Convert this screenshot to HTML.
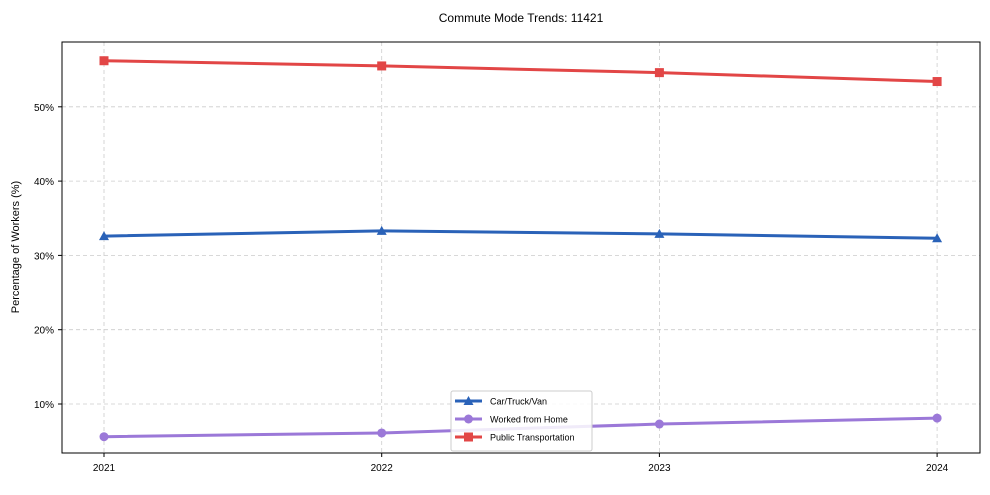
<!DOCTYPE html>
<html><head><meta charset="utf-8"><style>
body{margin:0;background:#fff;font-family:"Liberation Sans",Arial,sans-serif}
svg text{font-family:"Liberation Sans",Arial,sans-serif;fill:#000}
</style></head><body>
<svg id="chart" width="990" height="490">
<text x="521" y="22" font-size="12" text-anchor="middle">Commute Mode Trends: 11421</text>
<text transform="translate(19,247) rotate(-90)" font-size="11" text-anchor="middle">Percentage of Workers (%)</text>
<g id="grid"></g><g id="series"></g>
<rect x="62" y="42" width="918" height="411" fill="none" stroke="#000" stroke-width="1"/>
<g id="legend"></g>
</svg>
<script>
const years=["2021","2022","2023","2024"];
const carValues=[32.6,33.3,32.9,32.3];
const wfhValues=[5.6,6.1,7.3,8.1];
const ptValues=[56.2,55.5,54.6,53.4];
const yTicks=[10,20,30,40,50];
const NS="http://www.w3.org/2000/svg";
function xS(i){return 104+i*277.7;}
function yS(v){return 404-(v-10)*7.43;}
function mk(t,a,p){const e=document.createElementNS(NS,t);for(const k in a)e.setAttribute(k,a[k]);p.appendChild(e);return e;}
const grid=document.getElementById('grid'),svg=document.getElementById('chart');
yTicks.forEach(v=>{
 const l=mk('line',{x1:62,x2:980,y1:yS(v),y2:yS(v),stroke:'#ccc','stroke-dasharray':'4,3','stroke-width':0.8},grid);
 
 
 mk('line',{x1:58,x2:62,y1:yS(v),y2:yS(v),stroke:'#000'},grid);
 const t=mk('text',{x:54,y:yS(v)+4,'font-size':10,'text-anchor':'end'},grid);t.textContent=v+'%';
 
 
});
years.forEach((y,i)=>{
 const l=mk('line',{x1:xS(i),x2:xS(i),y1:42,y2:453,stroke:'#ccc','stroke-dasharray':'4,3','stroke-width':0.8},grid);
 
 
 mk('line',{x1:xS(i),x2:xS(i),y1:453,y2:457,stroke:'#000'},grid);
 const t=mk('text',{x:xS(i),y:471,'font-size':10,'text-anchor':'middle'},grid);t.textContent=y;
 
 
});
function marker(type,x,y,c,p){
 if(type==='tri')return mk('polygon',{points:`${x},${y-5} ${x-5},${y+4} ${x+5},${y+4}`,fill:c},p);
 if(type==='circ')return mk('circle',{cx:x,cy:y,r:4.5,fill:c},p);
 return mk('rect',{x:x-4.5,y:y-4.5,width:9,height:9,fill:c},p);
}
const ser=[
 {name:'Car/Truck/Van',vals:carValues,c:'#2a62b8',m:'tri',id:'car'},
 {name:'Worked from Home',vals:wfhValues,c:'#9b78d8',m:'circ',id:'wfh'},
 {name:'Public Transportation',vals:ptValues,c:'#e24646',m:'sq',id:'pt'}];
const sg=document.getElementById('series');
ser.forEach(s=>{
 const g=mk('g',{},sg);
 
 
 mk('polyline',{points:s.vals.map((v,i)=>xS(i)+','+yS(v)).join(' '),fill:'none',stroke:s.c,'stroke-width':3},g);
 s.vals.forEach((v,i)=>{const m=marker(s.m,xS(i),yS(v),s.c,g);
  
  });
});
const lg=document.getElementById('legend');
mk('rect',{x:451,y:391,width:141,height:60,rx:2,fill:'#fff','fill-opacity':0.85,stroke:'#ccc'},lg);
ser.forEach((s,i)=>{
 const y=401+i*18;
 mk('line',{x1:455,x2:482,y1:y,y2:y,stroke:s.c,'stroke-width':3},lg);
 marker(s.m,468.5,y,s.c,lg);
 const t=mk('text',{x:490,y:y+3.5,'font-size':9},lg);t.textContent=s.name;
 
 
});
</script>
</body></html>
